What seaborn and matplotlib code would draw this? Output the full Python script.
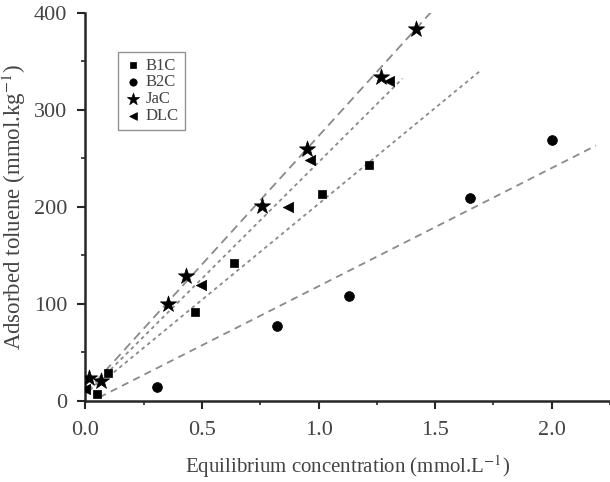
import numpy as np
import pandas as pd
import seaborn as sns
import matplotlib.pyplot as plt
from matplotlib.ticker import MultipleLocator

sns.set_style("ticks")
plt.rcParams['font.family'] = ['Liberation Serif', 'DejaVu Serif']
plt.rcParams['mathtext.fontset'] = 'stix'

# adsorption points
b1c_x = [0.048, 0.098, 0.47, 0.639, 1.016, 1.215]
b1c_y = [7, 28, 91, 142, 213, 243]
b2c_x = [0.308, 0.82, 1.131, 1.65, 2.0]
b2c_y = [14, 77, 108, 209, 269]
jac_x = [0.016, 0.065, 0.355, 0.431, 0.756, 0.949, 1.268, 1.417]
jac_y = [23, 20, 100, 129, 201, 260, 334, 383]
dlc_x = [0.0, 0.494, 0.87, 0.963, 1.304]
dlc_y = [12, 119, 200, 248, 330]

# fitted lines: (start x, end x, slope, intercept)
fit_b1c = [0.05, 1.70, 198, 5]
fit_b2c = [0.06, 2.19, 122, -4]
fit_jac = [0.0, 1.49, 265, 8]
fit_dlc = [0.02, 1.36, 240, 6]

series = [
    ("B1C", b1c_x, b1c_y, "s", 32),
    ("B2C", b2c_x, b2c_y, "o", 50),
    ("JaC", jac_x, jac_y, "*", 150),
    ("DLC", dlc_x, dlc_y, "<", 55),
]
fits = [
    (fit_b1c, (0, (2, 2))),
    (fit_b2c, (0, (4, 3))),
    (fit_jac, (0, (5, 3))),
    (fit_dlc, (0, (2, 2))),
]

fig = plt.figure(figsize=(6.1, 4.82), dpi=100)
ax = fig.add_axes([0.14, 0.169, 0.86, 0.804])

for (x0, x1, k, b), ls in fits:
    fx = np.array([x0, x1])
    sns.lineplot(x=fx, y=k * fx + b, ax=ax, color="#8a8a8a", lw=1.3,
                 linestyle=ls, legend=False)

for name, xs, ys, m, s in series:
    sns.scatterplot(x=xs, y=ys, marker=m, s=s, color="black",
                    edgecolor="black", linewidth=0.5, label=name, ax=ax, zorder=3)

ax.set_xlim(0, 2.25)
ax.set_ylim(0, 400)
ax.xaxis.set_major_locator(MultipleLocator(0.5))
ax.xaxis.set_minor_locator(MultipleLocator(0.25))
ax.yaxis.set_major_locator(MultipleLocator(100))
ax.yaxis.set_minor_locator(MultipleLocator(50))
ax.set_xticks([0, 0.5, 1.0, 1.5, 2.0])
ax.set_xticklabels(["0.0", "0.5", "1.0", "1.5", "2.0"])
ax.tick_params(which="major", length=6, width=1.5, labelsize=16,
               labelcolor="#444444", pad=7)
ax.tick_params(axis="x", which="major", pad=9)
ax.tick_params(which="minor", length=3, width=1.2)
for sp in ["top", "right"]:
    ax.spines[sp].set_visible(False)
for sp in ["left", "bottom"]:
    ax.spines[sp].set_linewidth(1.8)

ax.set_xlabel("Equilibrium concentration (mmol.L$^{-1}$)", fontsize=15,
              color="#444444", labelpad=9)
ax.set_ylabel("Adsorbed toluene (mmol.kg$^{-1}$)", fontsize=16.5,
              color="#444444", labelpad=4)

leg = ax.legend(loc="upper left", bbox_to_anchor=(0.063, 0.9),
                fontsize=12, frameon=True, fancybox=False, markerscale=0.75,
                handletextpad=0.3, labelspacing=0.05, borderpad=0.35,
                handlelength=1.0, borderaxespad=0)
leg.get_frame().set_edgecolor("#777777")
leg.get_frame().set_linewidth(1.0)
for t in leg.get_texts():
    t.set_color("#444444")

fig.savefig("out.png", dpi=100)
